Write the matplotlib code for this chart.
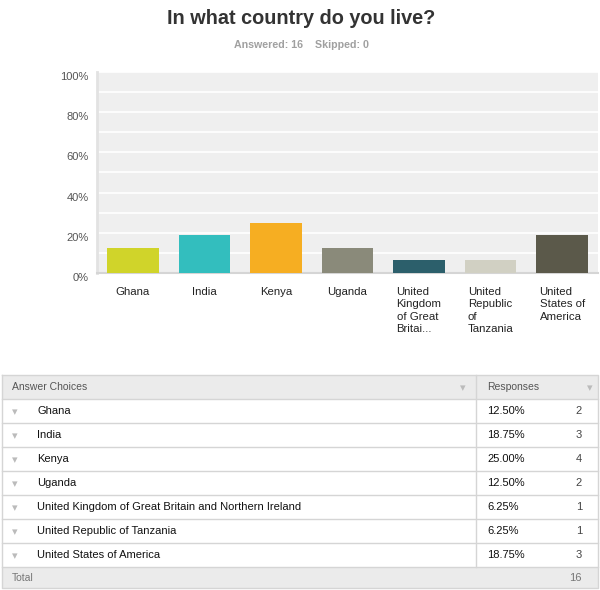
import numpy as np
import matplotlib.pyplot as plt
from matplotlib.patches import Rectangle

plt.rcParams['font.family'] = ['Liberation Sans', 'DejaVu Sans']

countries = ['Ghana', 'India', 'Kenya', 'Uganda',
             'United Kingdom of Great Britain and Northern Ireland',
             'United Republic of Tanzania', 'United States of America']
tick_labels = ['Ghana', 'India', 'Kenya', 'Uganda',
               'United\nKingdom\nof Great\nBritai...',
               'United\nRepublic\nof\nTanzania',
               'United\nStates of\nAmerica']
counts = [2, 3, 4, 2, 1, 1, 3]
percents = [12.50, 18.75, 25.00, 12.50, 6.25, 6.25, 18.75]
colors = ['#d0d42a', '#33bebe', '#f6ae22', '#8a8a7a', '#2c5f6b', '#d1d0c3', '#5b594a']
answered = 16
skipped = 0

W, H = 600, 590
fig = plt.figure(figsize=(W / 100, H / 100), dpi=100)

def fx(x):
    return x / W

def fy(y):
    return 1 - y / H

fig.text(fx(301), fy(18), 'In what country do you live?', ha='center', va='center',
         fontsize=14.3, fontweight='bold', color='#333333')
fig.text(fx(301), fy(45), f'Answered: {answered}    Skipped: {skipped}', ha='center',
         va='center', fontsize=7.7, fontweight='bold', color='#a0a0a0')

# bar chart
ax = fig.add_axes([fx(97), fy(273), fx(598 - 97), (273 - 72) / H])
ax.set_facecolor('#efefef')
x = np.arange(len(countries))
ax.bar(x, percents, width=0.72, color=colors, zorder=3)
ax.set_xlim(-0.5, len(countries) - 0.5)
ax.set_ylim(0, 100)
for g in range(10, 101, 10):
    ax.axhline(g, color='white', lw=1.2, zorder=1)
ax.set_yticks(range(0, 101, 20))
ax.set_yticklabels([f'{v}%' for v in range(0, 101, 20)], fontsize=8, color='#555555')
ax.set_xticks(x)
ax.set_xticklabels(tick_labels, fontsize=8.2, color='#222222', va='top',
                   multialignment='left', linespacing=1.3)
ax.tick_params(axis='both', length=0)
ax.tick_params(axis='x', pad=10)
ax.tick_params(axis='y', pad=6)
for lbl in ax.get_yticklabels():
    lbl.set_va('top')
for s in ['top', 'right']:
    ax.spines[s].set_visible(False)
ax.spines['left'].set_color('#e2e2e2')
ax.spines['left'].set_linewidth(2)
ax.spines['bottom'].set_color('#d5d5d5')
ax.spines['bottom'].set_linewidth(1.5)

# table
tab = fig.add_axes([0, 0, 1, fy(372)])
tab.set_xlim(0, W)
tab.set_ylim(H, 372)
tab.axis('off')

line_c = '#d5d5d5'
top = 375
row_h = 24
left, right, split = 2, 598, 476

tab.add_patch(Rectangle((left, top), right - left, row_h, facecolor='#ebebeb',
                        edgecolor='none'))
tab.text(12, top + row_h / 2, 'Answer Choices', fontsize=7.5, color='#555555', va='center')
tab.text(487, top + row_h / 2, 'Responses', fontsize=7.5, color='#555555', va='center')
tab.text(463, top + row_h / 2 + 1, '▾', fontsize=8, color='#bbbbbb', ha='center', va='center')
tab.text(590, top + row_h / 2 + 1, '▾', fontsize=8, color='#bbbbbb', ha='center', va='center')

for i, (name, pct, cnt) in enumerate(zip(countries, percents, counts)):
    y0 = top + row_h * (i + 1)
    yc = y0 + row_h / 2
    tab.text(15, yc + 1, '▾', fontsize=8, color='#bbbbbb', ha='center', va='center')
    tab.text(37, yc, name, fontsize=8, color='#111111', va='center')
    tab.text(487, yc, f'{pct:.2f}%', fontsize=8, color='#111111', va='center')
    tab.text(582, yc, str(cnt), fontsize=8, color='#444444', va='center', ha='right')
    tab.plot([left, right], [y0, y0], color=line_c, lw=1)

total_y = top + row_h * (len(countries) + 1)
tab.add_patch(Rectangle((left, total_y), right - left, H - 2 - total_y,
                        facecolor='#ebebeb', edgecolor='none'))
tab.plot([left, right], [total_y, total_y], color=line_c, lw=1)
tab.text(12, total_y + 11, 'Total', fontsize=7.5, color='#777777', va='center')
tab.text(582, total_y + 11, str(sum(counts)), fontsize=8, color='#777777', va='center',
         ha='right')
tab.plot([split, split], [top, total_y], color=line_c, lw=1)
tab.plot([left, right, right, left, left], [top, top, H - 2, H - 2, top], color=line_c, lw=1)

fig.savefig('out.png', dpi=100)
